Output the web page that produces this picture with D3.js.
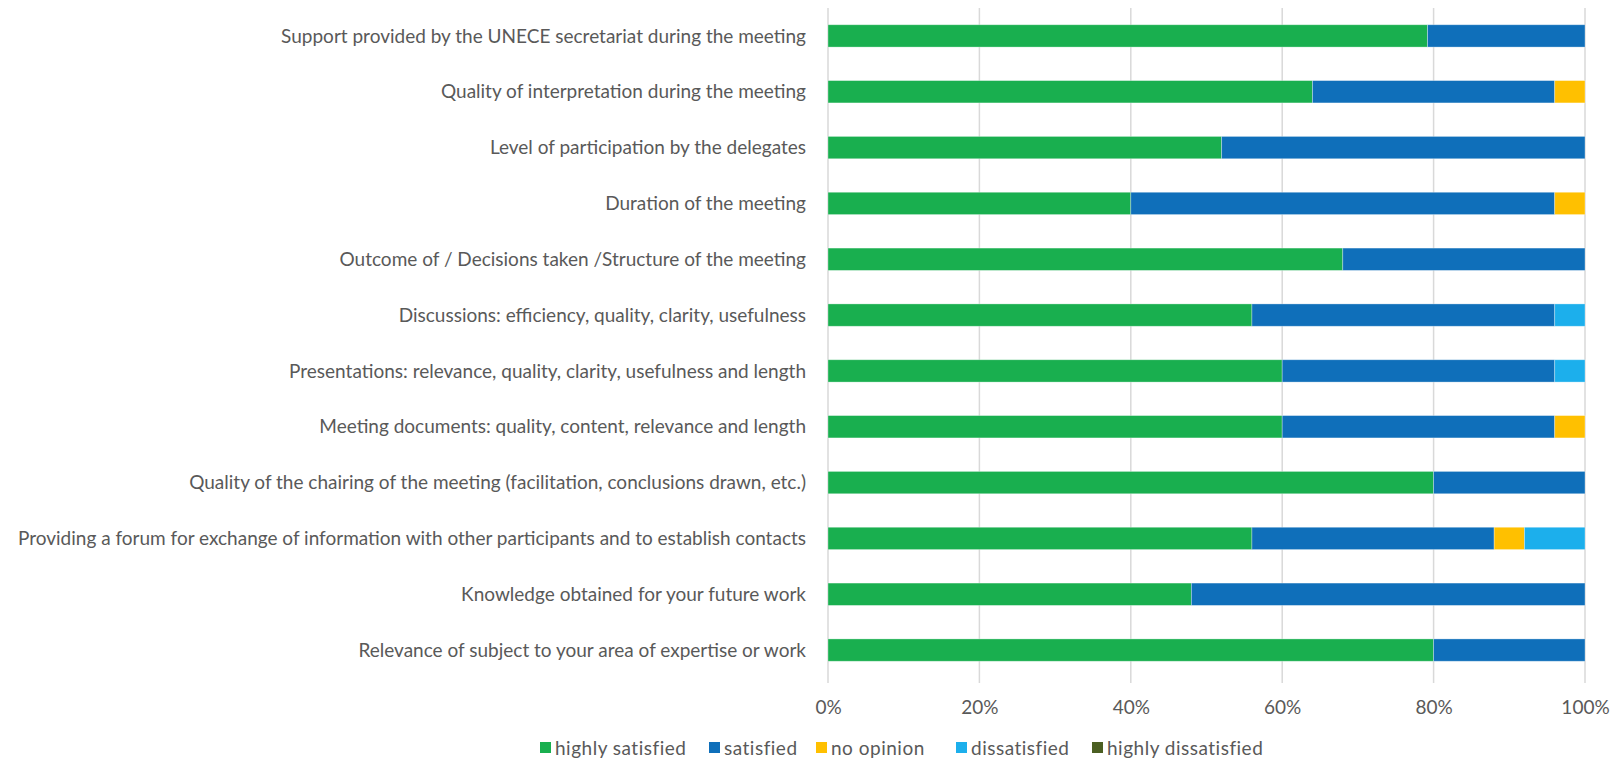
<!DOCTYPE html>
<html>
<head>
<meta charset="utf-8">
<script src="https://cdn.jsdelivr.net/npm/d3@7"></script>
<style>
  body { margin: 0; background: #fff; }
  svg { display: block; font-family: Lato, "Open Sans", sans-serif; }
</style>
</head>
<body>
<svg id="chart" width="1617" height="761"></svg>
<script>
// Questions, top to bottom
var categories = [
    "Support provided by the UNECE secretariat during the meeting",
    "Quality of interpretation during the meeting",
    "Level of participation by the delegates",
    "Duration of the meeting",
    "Outcome of / Decisions taken /Structure of the meeting",
    "Discussions: efficiency, quality, clarity, usefulness",
    "Presentations: relevance, quality, clarity, usefulness and length",
    "Meeting documents: quality, content, relevance and length",
    "Quality of the chairing of the meeting (facilitation, conclusions drawn, etc.)",
    "Providing a forum for exchange of information with other participants and to establish contacts",
    "Knowledge obtained for your future work",
    "Relevance of subject to your area of expertise or work"
];

var seriesNames = ["highly satisfied", "satisfied", "no opinion", "dissatisfied", "highly dissatisfied"];
var seriesColors = ["#19af4f", "#0f6fba", "#ffc000", "#1cafec", "#4b5f22"];

// Percent shares per series, in category order
var highlySatisfied    = [79.2, 64, 52, 40, 68, 56, 60, 60, 80, 56, 48, 80];
var satisfied          = [20.8, 32, 48, 56, 32, 40, 36, 36, 20, 32, 52, 20];
var noOpinion          = [0, 4, 0, 4, 0, 0, 0, 4, 0, 4, 0, 0];
var dissatisfied       = [0, 0, 0, 0, 0, 4, 4, 0, 0, 8, 0, 0];
var highlyDissatisfied = [0, 0, 0, 0, 0, 0, 0, 0, 0, 0, 0, 0];

var xTicks = [0, 20, 40, 60, 80, 100];

var rows = categories.map(function (c, i) {
    return {
        cat: c,
        "highly satisfied": highlySatisfied[i],
        "satisfied": satisfied[i],
        "no opinion": noOpinion[i],
        "dissatisfied": dissatisfied[i],
        "highly dissatisfied": highlyDissatisfied[i]
    };
});

var svg = d3.select("#chart");
var plotLeft = 828, plotRight = 1585, plotTop = 8, plotBottom = 678;

var x = d3.scaleLinear().domain([0, 100]).range([plotLeft, plotRight]);
var y = d3.scaleBand().domain(categories).range([plotTop, plotBottom])
    .paddingInner(0.6).paddingOuter(0.3);
var color = d3.scaleOrdinal().domain(seriesNames).range(seriesColors);

// Gridlines
svg.append("g")
    .selectAll("line")
    .data(xTicks)
    .enter()
    .append("line")
    .attr("x1", d => x(d)).attr("x2", d => x(d))
    .attr("y1", plotTop).attr("y2", plotBottom + 5)
    .attr("stroke", "#d9d9d9")
    .attr("stroke-width", 1.5);

// Stacked bars
var stacked = d3.stack().keys(seriesNames)(rows);
svg.append("g")
    .selectAll("g")
    .data(stacked)
    .enter()
    .append("g")
    .attr("fill", d => color(d.key))
    .selectAll("rect")
    .data(d => d.filter(p => p[1] - p[0] > 0))
    .enter()
    .append("rect")
    .attr("x", d => x(d[0]))
    .attr("y", d => y(d.data.cat))
    .attr("width", d => x(d[1]) - x(d[0]))
    .attr("height", y.bandwidth())
    .attr("stroke", "#ffffff")
    .attr("stroke-opacity", 0.4)
    .attr("stroke-width", 0.8);

// Category labels
svg.append("g")
    .selectAll("text")
    .data(categories)
    .enter()
    .append("text")
    .attr("x", plotLeft - 22)
    .attr("y", d => y(d) + y.bandwidth() / 2)
    .attr("dy", "0.35em")
    .attr("text-anchor", "end")
    .attr("font-size", "19px")
    .attr("fill", "#595959")
    .text(d => d);

// X axis
var xAxis = svg.append("g")
    .attr("transform", "translate(0," + (plotBottom + 5) + ")")
    .call(d3.axisBottom(x).tickValues(xTicks).tickSize(0).tickPadding(18)
        .tickFormat(d => d + "%"));
xAxis.select(".domain").remove();
xAxis.selectAll("text")
    .attr("font-size", "19px")
    .attr("font-family", "Lato, sans-serif")
    .attr("fill", "#595959");

// Legend
var legendX = [540, 709, 816, 956, 1092];
var legend = svg.append("g")
    .selectAll("g")
    .data(seriesNames)
    .enter()
    .append("g")
    .attr("transform", (d, i) => "translate(" + legendX[i] + ",748)");
legend.append("rect")
    .attr("x", 0).attr("y", -6)
    .attr("width", 11).attr("height", 11)
    .attr("fill", d => color(d));
legend.append("text")
    .attr("x", 15)
    .attr("dy", "0.35em")
    .attr("font-size", "19px")
    .attr("letter-spacing", "0.5px")
    .attr("fill", "#595959")
    .text(d => d);
</script>
</body>
</html>
